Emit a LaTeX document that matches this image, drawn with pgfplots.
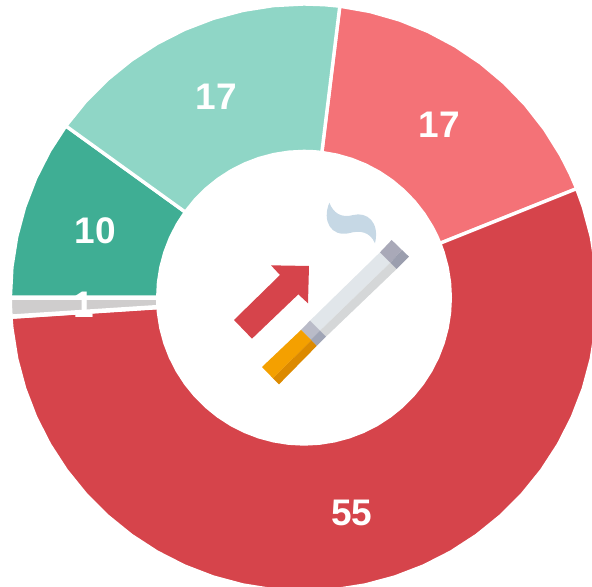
\documentclass[border=0pt]{standalone}
\usepackage{fontspec}
\setmainfont{Liberation Sans}
\usepackage{pgfplots}
\pgfplotsset{compat=1.18}
\definecolor{cRed}{HTML}{D6444B}
\definecolor{cPink}{HTML}{F47277}
\definecolor{cGreen}{HTML}{3FAE94}
\definecolor{cLight}{HTML}{8FD6C6}
\definecolor{cGray}{HTML}{CFCDCD}
\tikzset{lab/.style={text=white,font=\fontsize{37bp}{37bp}\selectfont\bfseries,inner sep=0pt,anchor=center}}
\begin{document}
\begin{tikzpicture}
\path (0,0) rectangle (592bp,587bp);
\begin{axis}[at={(0,0)},anchor=south west,width=592bp,height=587bp,scale only axis,
  xmin=-304,xmax=288,ymin=-289.3,ymax=297.7,hide axis,clip=true,
  every axis plot/.append style={data cs=polar,draw=white,line width=3.4bp,line join=round,mark=none,forget plot}]
% 17 (pink): 83 -> 21.8 deg
\addplot[fill=cPink] coordinates {
(83,293.7)(77,293.7)(71,293.7)(65,293.7)(59,293.7)(53,293.7)(47,293.7)(41,293.7)(35,293.7)(29,293.7)(25,293.7)(21.8,293.7)
(21.8,146.3)(25,146.3)(29,146.3)(35,146.3)(41,146.3)(47,146.3)(53,146.3)(59,146.3)(65,146.3)(71,146.3)(77,146.3)(83,146.3)(83,293.7)};
% 55 (red): 21.8 -> -176.2 deg
\addplot[fill=cRed] coordinates {
(21.8,293.7)(18,293.7)(12,293.7)(6,293.7)(0,293.7)(-6,293.7)(-12,293.7)(-18,293.7)(-24,293.7)(-30,293.7)(-36,293.7)(-42,293.7)(-48,293.7)(-54,293.7)(-60,293.7)(-66,293.7)(-72,293.7)(-78,293.7)(-84,293.7)(-90,293.7)(-96,293.7)(-102,293.7)(-108,293.7)(-114,293.7)(-120,293.7)(-126,293.7)(-132,293.7)(-138,293.7)(-144,293.7)(-150,293.7)(-156,293.7)(-162,293.7)(-168,293.7)(-174,293.7)(-176.2,293.7)
(-176.2,146.3)(-174,146.3)(-168,146.3)(-162,146.3)(-156,146.3)(-150,146.3)(-144,146.3)(-138,146.3)(-132,146.3)(-126,146.3)(-120,146.3)(-114,146.3)(-108,146.3)(-102,146.3)(-96,146.3)(-90,146.3)(-84,146.3)(-78,146.3)(-72,146.3)(-66,146.3)(-60,146.3)(-54,146.3)(-48,146.3)(-42,146.3)(-36,146.3)(-30,146.3)(-24,146.3)(-18,146.3)(-12,146.3)(-6,146.3)(0,146.3)(6,146.3)(12,146.3)(18,146.3)(21.8,146.3)(21.8,293.7)};
% 10 (green): 180.2 -> 144.2 deg
\addplot[fill=cGreen] coordinates {
(180.2,293.7)(174,293.7)(168,293.7)(162,293.7)(156,293.7)(150,293.7)(144.2,293.7)
(144.2,146.3)(150,146.3)(156,146.3)(162,146.3)(168,146.3)(174,146.3)(180.2,146.3)(180.2,293.7)};
% 17 (light green): 144.2 -> 83 deg
\addplot[fill=cLight] coordinates {
(144.2,293.7)(138,293.7)(132,293.7)(126,293.7)(120,293.7)(114,293.7)(108,293.7)(102,293.7)(96,293.7)(90,293.7)(86,293.7)(83,293.7)
(83,146.3)(86,146.3)(90,146.3)(96,146.3)(102,146.3)(108,146.3)(114,146.3)(120,146.3)(126,146.3)(132,146.3)(138,146.3)(144.2,146.3)(144.2,293.7)};
% 1 (gray): 183.7 -> 180 deg
\addplot[fill=cGray,line width=4.5bp] coordinates {
(183.7,294.2)(182,294.2)(180,294.2)(180,145.8)(182,145.8)(183.7,145.8)(183.7,294.2)};
\node[lab] at (axis cs:135,173) {17};
\node[lab] at (axis cs:48,-215) {55};
\node[lab] at (axis cs:-220,-7) {1};
\node[lab] at (axis cs:-208.5,67) {10};
\node[lab] at (axis cs:-87.5,201) {17};
\end{axis}
\begin{scope}[shift={(220bp,397bp)},x=0.33333bp,y=-0.33333bp]
\fill[cRed] (153,226)--(267,228)--(264,340)--(235,313)--(96,446)--(42,390)--(180,255)--cycle;
% smoke
\fill[color={rgb,255:red,198;green,216;blue,229}] (328,38) .. controls (340,70) and (365,85) .. (400,75) .. controls (440,65) and (480,95) .. (465,160) .. controls (450,125) and (420,120) .. (385,130) .. controls (335,140) and (305,95) .. (328,38) -- cycle;
% cigarette body
\fill[color={rgb,255:red,225;green,230;blue,234}] (480,187)--(511,218)--(300,422)--(270,392)--cycle;
\fill[color={rgb,255:red,213;green,215;blue,216}] (511,218)--(530,237)--(318,440)--(300,422)--cycle;
% end cap
\fill[color={rgb,255:red,169;green,169;blue,184}] (515,150)--(546,180)--(511,218)--(480,187)--cycle;
\fill[color={rgb,255:red,155;green,158;blue,174}] (546,180)--(567,200)--(530,237)--(511,218)--cycle;
% band
\fill[color={rgb,255:red,185;green,187;blue,200}] (270,392)--(300,422)--(272,450)--(243,420)--cycle;
\fill[color={rgb,255:red,160;green,165;blue,182}] (300,422)--(318,440)--(290,468)--(272,450)--cycle;
% filter
\fill[color={rgb,255:red,244;green,160;blue,0}] (243,420)--(274,451)--(159,565)--(126,531)--cycle;
\fill[color={rgb,255:red,220;green,138;blue,0}] (274,451)--(290,468)--(177,583)--(159,565)--cycle;
\end{scope}
\end{tikzpicture}
\end{document}
